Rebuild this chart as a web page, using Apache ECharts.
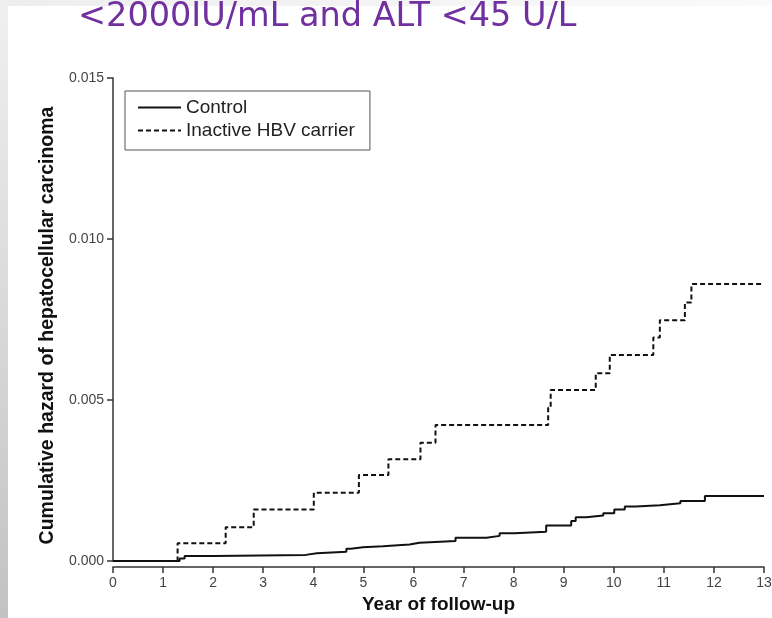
<!DOCTYPE html>
<html>
<head>
<meta charset="utf-8">
<script src="https://cdn.jsdelivr.net/npm/echarts@6/dist/echarts.min.js"></script>
<style>
html,body{margin:0;padding:0;background:#fff;}
#c{width:772px;height:618px;}
</style>
</head>
<body>
<div id="c"></div>
<script>
// Data
var titleText = '<2000IU/mL and ALT <45 U/L';
var seriesNames = ['Control', 'Inactive HBV carrier'];
var xTicks = [0,1,2,3,4,5,6,7,8,9,10,11,12,13];
var yTicks = [0, 0.005, 0.010, 0.015];

var controlTimes  = [0, 1.33, 1.43, 2.03, 3.85, 4.07, 4.66, 4.75, 4.99, 5.39, 5.92, 6.12, 6.84, 7.46, 7.72, 8.02, 8.65, 9.15, 9.24, 9.45, 9.79, 10.01, 10.22, 10.44, 10.92, 11.33, 11.82, 13];
var controlValues = [0, 0.00008, 0.000155, 0.00019, 0.00024, 0.00029, 0.00038, 0.00043, 0.00046, 0.00051, 0.00057, 0.00062, 0.00072, 0.00078, 0.00086, 0.00091, 0.0011, 0.00124, 0.00136, 0.00141, 0.00148, 0.0016, 0.00169, 0.00173, 0.00179, 0.00186, 0.00202, 0.00202];

var hbvTimes  = [0, 1.29, 2.25, 2.81, 4.01, 4.91, 5.50, 6.14, 6.44, 8.69, 8.74, 9.64, 9.92, 10.79, 10.92, 11.42, 11.55, 13];
var hbvValues = [0, 0.00055, 0.00105, 0.0016, 0.00212, 0.00267, 0.00316, 0.00367, 0.00422, 0.00476, 0.00531, 0.00583, 0.0064, 0.00694, 0.00748, 0.00803, 0.0086, 0.0086];

function pairs(xs, ys){ return xs.map(function(x,i){ return [x, ys[i]]; }); }

var chart = echarts.init(document.getElementById('c'), null, {renderer:'canvas'});
var axisColor = '#333';
var option = {
  backgroundColor: '#fff',
  animation: false,
  graphic: [
    {type:'rect', left:0, top:0, shape:{width:772, height:6}, style:{fill: new echarts.graphic.LinearGradient(0,0,1,0,[{offset:0,color:'#eeeeee'},{offset:1,color:'#fafafa'}])}, z:-10},
    {type:'rect', left:0, top:0, shape:{width:8, height:618}, style:{fill: new echarts.graphic.LinearGradient(0,0,0,1,[{offset:0,color:'#f0f0f0'},{offset:1,color:'#c2c2c2'}])}, z:-10},
    {type:'text', left:78, top:0, style:{text:titleText, fill:'#7030a0', font:'33.5px "DejaVu Sans"'}}
  ],
  grid: {left:113, right:8, top:78, bottom:57, containLabel:false, outerBoundsMode:'none'},
  legend: {
    orient:'vertical', left:125, top:91,
    padding:[7,15,10,12], itemGap:4, itemWidth:43, itemHeight:14,
    borderColor:'#555', borderWidth:1,
    itemStyle:{color:'transparent', borderColor:'transparent', borderWidth:0, opacity:0},
    textStyle:{fontFamily:'Liberation Sans', fontSize:19, color:'#222', padding:[0,0,0,0]},
    data: seriesNames
  },
  xAxis: {
    type:'value', min:0, max:13, interval:1, offset:6,
    axisLine:{show:true, onZero:false, lineStyle:{color:axisColor, width:1.5}},
    axisTick:{show:true, inside:false, length:6, lineStyle:{color:axisColor, width:1.5}},
    axisLabel:{color:'#444', fontFamily:'Liberation Sans', fontSize:14, margin:9},
    splitLine:{show:false},
    name:'Year of follow-up', nameLocation:'middle', nameGap:24,
    nameTextStyle:{fontFamily:'Liberation Sans', fontSize:19, fontWeight:'bold', color:'#111'}
  },
  yAxis: {
    type:'value', min:0, max:0.015, interval:0.005,
    axisLine:{show:true, onZero:false, lineStyle:{color:axisColor, width:1.5}},
    axisTick:{show:true, length:6, lineStyle:{color:axisColor, width:1.5}},
    axisLabel:{color:'#444', fontFamily:'Liberation Sans', fontSize:14, margin:9,
      formatter:function(v){ return v.toFixed(3); }},
    splitLine:{show:false},
    name:'Cumulative hazard of hepatocellular carcinoma', nameLocation:'middle', nameGap:51,
    nameTextStyle:{fontFamily:'Liberation Sans', fontSize:19.5, fontWeight:'bold', color:'#111', padding:[0,12,0,0]}
  },
  series: [
    {name:seriesNames[0], type:'line', step:'end', showSymbol:false, symbol:'none',
     lineStyle:{color:'#111', width:2, type:'solid'}, itemStyle:{color:'#111'},
     data: pairs(controlTimes, controlValues)},
    {name:seriesNames[1], type:'line', step:'end', showSymbol:false, symbol:'none',
     lineStyle:{color:'#111', width:2, type:[5,3]}, itemStyle:{color:'#111'},
     data: pairs(hbvTimes, hbvValues)}
  ]
};
chart.setOption(option);
</script>
</body>
</html>
